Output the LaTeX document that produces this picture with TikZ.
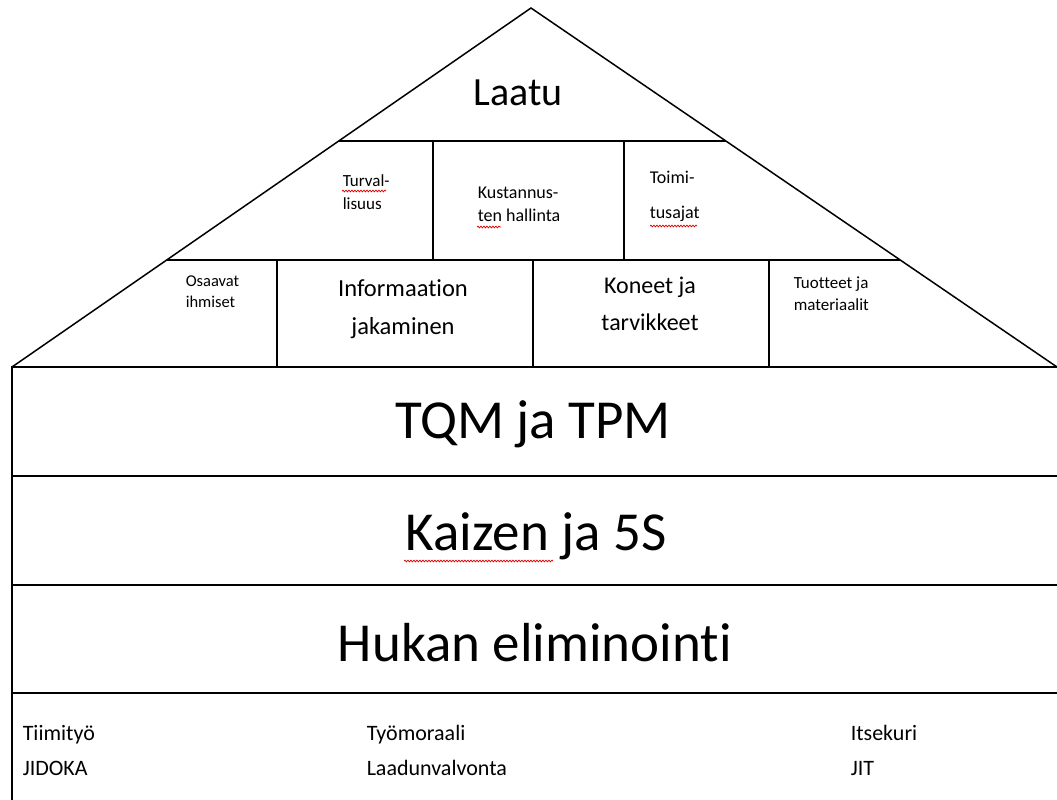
\documentclass[tikz,border=0pt]{standalone}
\usepackage{fontspec}
\setmainfont{Carlito}[Ligatures=NoCommon]
\usetikzlibrary{calc,decorations.pathmorphing}

\begin{document}
\begin{tikzpicture}[x=1pt, y=-1pt, line width=1.5pt,
    lbl/.style={inner sep=0pt, align=center},
    lbll/.style={inner sep=0pt, align=left},
    spell/.style={draw=red!85!black, line width=0.7pt, decorate,
      decoration={snake, amplitude=0.9pt, segment length=3pt}}]
  \useasboundingbox (0,0) rectangle (1057,800);

  % Roof corners
  \coordinate (apex) at (531,8);
  \coordinate (eaveL) at (12,367);
  \coordinate (eaveR) at (1057,367);
  \coordinate (r1L) at ($(apex)!0.3705!(eaveL)$);
  \coordinate (r1R) at ($(apex)!0.3705!(eaveR)$);
  \coordinate (r2L) at ($(apex)!0.702!(eaveL)$);
  \coordinate (r2R) at ($(apex)!0.702!(eaveR)$);

  % Roof lines
  \draw (eaveL) -- (apex) -- (eaveR);
  \draw (r1L) -- (r1R);
  \draw (r2L) -- (r2R);
  \draw (433,141) -- (433,260);
  \draw (624,141) -- (624,260);
  \draw (277,260) -- (277,367);
  \draw (533,260) -- (533,367);
  \draw (769,260) -- (769,367);

  % Wall (floors)
  \draw (eaveR) -- (eaveL) -- (12,800);
  \draw (12,476) -- (1057,476);
  \draw (12,585) -- (1057,585);
  \draw[line width=2.8pt] (12,693) -- (1057,693);

  % Roof texts
  \node[lbl, font=\fontsize{40}{48}\selectfont] (laatu) at (518,93) {Laatu};
  \node[lbll, font=\fontsize{17}{23}\selectfont, anchor=west] (turval) at (342,192) {Turval-\\lisuus};
  \node[lbll, font=\fontsize{18}{23}\selectfont, anchor=west] (kust) at (477,204) {Kustannus-\\ten hallinta};
  \node[lbll, font=\fontsize{18}{35}\selectfont, anchor=west] (toimi) at (649,196) {Toimi-\\tusajat};
  \node[lbll, font=\fontsize{16.5}{21}\selectfont, anchor=west] (osaavat) at (185,292) {Osaavat\\ihmiset};
  \node[lbl, font=\fontsize{24.5}{38}\selectfont] (info) at (403,309) {Informaation\\jakaminen};
  \node[lbl, font=\fontsize{24}{37}\selectfont] (koneet) at (650,304) {Koneet ja\\tarvikkeet};
  \node[lbll, font=\fontsize{17}{22}\selectfont, anchor=west] (tuotteet) at (793,294) {Tuotteet ja\\materiaalit};

  % Floor texts
  \node[lbl, font=\fontsize{55}{66}\selectfont] (tqm) at (533,424) {TQM ja TPM};
  \node[lbl, font=\fontsize{55}{66}\selectfont] (kaizen) at (536,536) {Kaizen ja 5S};
  \node[lbl, font=\fontsize{55}{66}\selectfont] (hukka) at (535,643) {Hukan eliminointi};

  % Foundation texts
  \node[lbll, font=\fontsize{22}{35}\selectfont, anchor=west] (tiimi) at (22,750) {Tiimityö\\JIDOKA};
  \node[lbll, font=\fontsize{22}{35}\selectfont, anchor=west] (tyomor) at (366,750) {Työmoraali\\Laadunvalvonta};
  \node[lbll, font=\fontsize{22}{35}\selectfont, anchor=west] (itsekuri) at (850,750) {Itsekuri\\JIT};

  % Spell-check marks
  \draw[spell] (342,191) -- (386,191);
  \draw[spell] (477,227) -- (501,227);
  \draw[spell] (650,226) -- (697,226);
  \draw[spell] (404,561) -- (553,561);
\end{tikzpicture}
\end{document}
